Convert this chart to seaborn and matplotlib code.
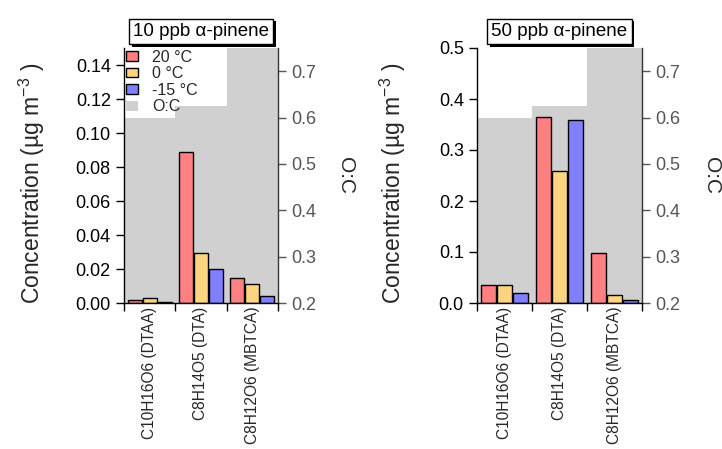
import pandas as pd
import matplotlib.pyplot as plt
import seaborn as sns
import numpy as np
import matplotlib.patheffects as pe
from matplotlib.patches import Patch
from matplotlib.ticker import FormatStrFormatter

sns.set_theme(style='ticks')
plt.rcParams['font.family'] = ['Liberation Sans', 'DejaVu Sans']
plt.rcParams['mathtext.fontset'] = 'custom'
plt.rcParams['mathtext.rm'] = 'Liberation Sans'
plt.rcParams['mathtext.it'] = 'Liberation Sans:italic'
plt.rcParams['mathtext.bf'] = 'Liberation Sans:bold'

# data
compounds = ['C10H16O6 (DTAA)', 'C8H14O5 (DTA)', 'C8H12O6 (MBTCA)']
temps = ['20 °C', '0 °C', '-15 °C']
oc_ratio = [0.60, 0.625, 0.75]

conc_10ppb_20C = [0.0019, 0.089, 0.0148]
conc_10ppb_0C = [0.0030, 0.0295, 0.0113]
conc_10ppb_m15C = [0.0008, 0.0202, 0.0039]

conc_50ppb_20C = [0.035, 0.364, 0.099]
conc_50ppb_0C = [0.035, 0.259, 0.015]
conc_50ppb_m15C = [0.020, 0.359, 0.005]

colors = ['#ff8080', '#ffd480', '#8080ff']
oc_color = '#d0d0d0'


def long_df(c20, c0, cm15):
    rows = []
    for t, vals in zip(temps, [c20, c0, cm15]):
        for comp, v in zip(compounds, vals):
            rows.append({'compound': comp, 'temp': t, 'conc': v})
    return pd.DataFrame(rows)


fig = plt.figure(figsize=(7.22, 4.49), dpi=100)

panels = [
    dict(title='10 ppb α-pinene', df=long_df(conc_10ppb_20C, conc_10ppb_0C, conc_10ppb_m15C),
         rect=[124 / 722, 1 - 303 / 449, 154 / 722, 255 / 449],
         ylim=0.15, yticks=np.arange(0, 0.141, 0.02), fmt='%.2f', legend=True,
         ylab_x=-0.60, oc_x=1.44),
    dict(title='50 ppb α-pinene', df=long_df(conc_50ppb_20C, conc_50ppb_0C, conc_50ppb_m15C),
         rect=[477 / 722, 1 - 303 / 449, 165 / 722, 255 / 449],
         ylim=0.5, yticks=np.arange(0, 0.51, 0.1), fmt='%.1f', legend=False,
         ylab_x=-0.51, oc_x=1.42),
]

for p in panels:
    ax = fig.add_axes(p['rect'])
    ax2 = ax.twinx()

    # O:C background bars on the right axis
    sns.barplot(x=compounds, y=oc_ratio, color=oc_color, width=1.0, linewidth=0,
                saturation=1, ax=ax2)
    ax2.set_ylim(0.2, 0.75)
    ax2.set_yticks([0.2, 0.3, 0.4, 0.5, 0.6, 0.7])
    ax2.yaxis.set_major_formatter(FormatStrFormatter('%.1f'))
    ax2.tick_params(axis='y', colors='#555555', labelsize=13, length=6, width=1, direction='out')
    ax2.set_ylabel('O:C', rotation=270, fontsize=15, va='center')
    ax2.yaxis.set_label_coords(p['oc_x'], 0.5)
    for s in ['top', 'left', 'bottom']:
        ax2.spines[s].set_visible(False)
    ax2.spines['right'].set_color('#333333')
    ax2.spines['right'].set_linewidth(1)

    # concentration bars on the left axis, drawn on top
    ax.set_zorder(ax2.get_zorder() + 1)
    ax.patch.set_visible(False)
    sns.barplot(data=p['df'], x='compound', y='conc', hue='temp', hue_order=temps,
                palette=colors, saturation=1, width=0.87, gap=0.06,
                edgecolor='black', linewidth=1, legend=False, ax=ax)
    ax.set_ylim(0, p['ylim'])
    ax.set_xlim(-0.5, 2.5)
    ax.set_yticks(p['yticks'])
    ax.yaxis.set_major_formatter(FormatStrFormatter(p['fmt']))
    ax.tick_params(axis='y', labelsize=13, length=6, width=1, direction='out', colors='black')
    ax.set_xticks([0, 1, 2])
    ax.set_xticklabels(compounds, rotation=90, fontsize=11.2)
    ax.set_xticks([-0.5, 0.5, 1.5, 2.5], minor=True)
    ax.tick_params(axis='x', which='major', length=0, pad=2.5)
    ax.tick_params(axis='x', which='minor', length=6, width=1, direction='out', color='black')
    ax.set_xlabel('')
    ax.set_ylabel('Concentration (µg m$^{-3}$ )', fontsize=16.5, va='center')
    ax.yaxis.set_label_coords(p['ylab_x'], 0.47)
    ax.spines['top'].set_visible(False)
    ax.spines['right'].set_visible(False)
    for s in ['left', 'bottom']:
        ax.spines[s].set_color('black')
        ax.spines[s].set_linewidth(1)

    # boxed title with drop shadow
    t = ax.annotate(p['title'], xy=(0.5, 1), xycoords='axes fraction', xytext=(0, 6),
                    textcoords='offset points', ha='center', va='bottom', fontsize=13.5,
                    color='black', zorder=6,
                    bbox=dict(boxstyle='square,pad=0.22', fc='white', ec='black', lw=1))
    t.get_bbox_patch().set_path_effects([
        pe.SimplePatchShadow(offset=(2, -2), shadow_rgbFace='black', alpha=1),
        pe.Normal()])

    if p['legend']:
        handles = [Patch(facecolor=c, edgecolor='black', linewidth=1, label=t)
                   for c, t in zip(colors, temps)]
        handles.append(Patch(facecolor=oc_color, edgecolor='none', label='O:C'))
        ax.legend(handles=handles, loc='upper left', bbox_to_anchor=(0, 1), frameon=False,
                  fontsize=11.5, handlelength=0.8, handleheight=0.55, handletextpad=0.85,
                  labelspacing=0.1, borderpad=0.1, borderaxespad=0)

fig.savefig('out.png', dpi=100)
